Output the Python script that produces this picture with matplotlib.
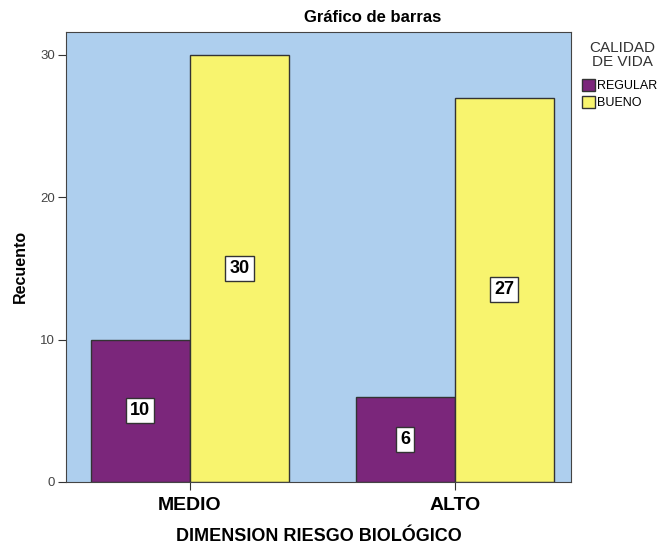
import matplotlib.pyplot as plt
import numpy as np
from matplotlib.patches import Patch

plt.rcParams['font.family'] = ['Liberation Sans', 'DejaVu Sans']

categories = ['MEDIO', 'ALTO']
regular = [10, 6]
bueno = [30, 27]
series_names = ['REGULAR', 'BUENO']

purple = '#7b267b'
yellow = '#f8f46e'
bg = '#aecfee'

fig = plt.figure(figsize=(6.6, 5.44), dpi=100)
ax = fig.add_axes([0.1, 0.114, 0.765, 0.827])
ax.set_facecolor(bg)

x = np.arange(len(categories))
w = 0.374
b1 = ax.bar(x - w / 2, regular, w, color=purple, edgecolor='#333333', linewidth=1)
b2 = ax.bar(x + w / 2, bueno, w, color=yellow, edgecolor='#333333', linewidth=1)

for bars, vals in [(b1, regular), (b2, bueno)]:
    for rect, v in zip(bars, vals):
        ax.text(rect.get_x() + rect.get_width() / 2, v / 2, str(v),
                ha='center', va='center', fontsize=13, fontweight='bold',
                bbox=dict(boxstyle='square,pad=0.22', fc='white', ec='#333333', lw=1))

ax.set_xlim(-0.468, 1.438)
ax.set_ylim(0, 31.6)
ax.set_xticks(x)
ax.set_xticklabels(categories, fontsize=14, fontweight='bold')
ax.set_yticks([0, 10, 20, 30])
ax.tick_params(axis='y', labelsize=9.5, labelcolor='#444444', length=6, pad=2, color='#333333')
ax.tick_params(axis='x', length=6, pad=5, color='#333333')
for s in ax.spines.values():
    s.set_color('#444444')

ax.set_ylabel('Recuento', fontsize=11.5, fontweight='bold')
ax.yaxis.set_label_coords(-0.075, 0.48)
ax.set_xlabel('DIMENSION RIESGO BIOLÓGICO', fontsize=13, fontweight='bold', labelpad=10)
fig.text(373 / 660, 1 - 18 / 544, 'Gráfico de barras', ha='center', va='center',
         fontsize=12, fontweight='bold')

fig.text(622 / 660, 1 - 55 / 544, 'CALIDAD\nDE VIDA', ha='center', va='center',
         fontsize=11, color='#333333', linespacing=0.95)
handles = [Patch(facecolor=purple, edgecolor='#333333'),
           Patch(facecolor=yellow, edgecolor='#333333')]
leg = fig.legend(handles, series_names,
                 loc='upper left', bbox_to_anchor=(579 / 660, 1 - 76 / 544),
                 frameon=False, fontsize=9,
                 handlelength=1.1, handleheight=1.1, handletextpad=0.15,
                 labelspacing=0.3, borderpad=0.2, borderaxespad=0)

fig.savefig('out.png', dpi=100)
